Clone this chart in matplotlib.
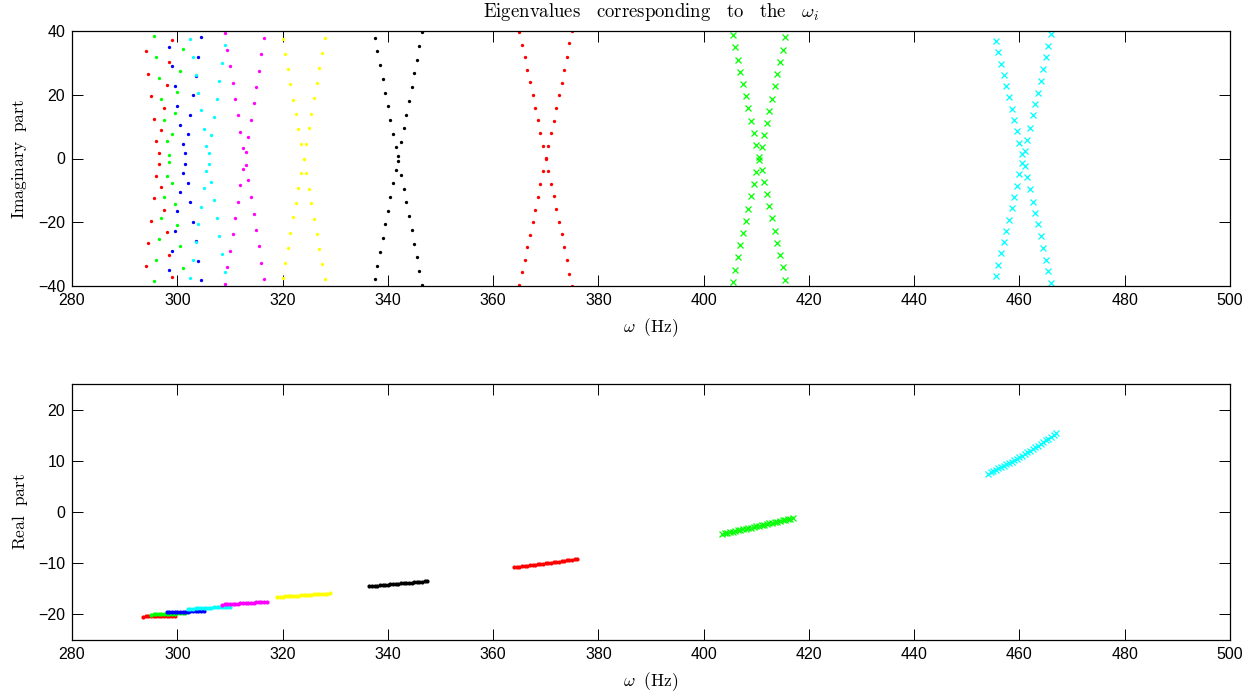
import matplotlib
matplotlib.use("Agg")
import matplotlib.pyplot as plt
import numpy as np

# ---------------- data ----------------
# Top panel: omega samples (Hz) and imaginary part of one eigenvalue of each pair
# (the other eigenvalue of the pair is its complex conjugate)
red1_om_top = [294.0, 294.5, 295.0, 295.5, 296.0, 296.5, 297.0, 297.5, 298.0, 298.5, 299.0]
red1_im = [-33.7, -26.6, -19.5, -12.5, -5.4, 1.7, 8.9, 16.0, 23.0, 30.2, 37.3]

green1_om_top = [295.5, 296.0, 296.5, 297.0, 297.5, 298.0, 298.5, 299.0, 299.5, 300.0, 300.5, 301.0]
green1_im = [38.4, 31.8, 25.2, 18.6, 12.0, 5.5, -1.2, -7.8, -14.3, -20.9, -27.6, -34.2]

blue_om_top = [298.5, 299.0, 299.5, 300.0, 300.5, 301.0, 301.5, 302.0, 302.5, 303.0, 303.5, 304.0, 304.5]
blue_im = [35.0, 28.9, 22.8, 16.6, 10.5, 4.5, -1.6, -7.7, -13.8, -19.8, -25.9, -32.0, -38.2]

cyan1_om_top = [302.5, 303.0, 303.5, 304.0, 304.5, 305.0, 305.5, 306.0, 306.5, 307.0, 307.5, 308.0, 308.5, 309.0]
cyan1_im = [37.4, 31.8, 26.2, 20.6, 15.1, 9.4, 3.8, -1.8, -7.5, -13.1, -18.7, -24.4, -29.9, -35.6]

magenta_om_top = [309.0, 309.5, 310.0, 310.5, 311.0, 311.5, 312.0, 312.5, 313.0, 313.5, 314.0, 314.5,
                  315.0, 315.5, 316.0, 316.5]
magenta_im = [39.3, 34.0, 28.9, 23.7, 18.6, 13.5, 8.3, 3.3, -1.9, -6.9, -12.1, -17.3, -22.4, -27.6, -32.7, -37.9]

yellow_om_top = [320.0, 320.5, 321.0, 321.5, 322.0, 322.5, 323.0, 323.5, 324.0, 324.5, 325.0, 325.5,
                 326.0, 326.5, 327.0, 327.5, 328.0]
yellow_im = [37.4, 32.7, 28.0, 23.3, 18.5, 13.9, 9.2, 4.6, 0.0, -4.7, -9.5, -14.0, -19.0, -23.6, -28.5, -33.2, -37.9]

black_om_top = [337.5, 338.0, 338.5, 339.0, 339.5, 340.0, 340.5, 341.0, 341.5, 342.0, 342.5, 343.0,
                343.5, 344.0, 344.5, 345.0, 345.5, 346.0, 346.5]
black_im = [37.9, 33.6, 29.3, 25.0, 20.7, 16.4, 12.1, 7.8, 3.5, -0.8, -5.2, -9.5, -13.8, -18.1, -22.4,
            -26.7, -31.0, -35.3, -39.6]

red2_om_top = [365.0, 365.5, 366.0, 366.5, 367.0, 367.5, 368.0, 368.5, 369.0, 369.5, 370.0, 370.5,
               371.0, 371.5, 372.0, 372.5, 373.0, 373.5, 374.0, 374.5, 375.0]
red2_im = [39.6, 35.7, 31.7, 27.8, 23.9, 19.8, 16.0, 12.0, 7.9, 3.9, 0.2, -4.0, -7.9, -11.9, -15.9,
           -20.0, -23.8, -27.9, -31.9, -36.1, -39.9]

green2_om_top = [405.5, 406.0, 406.5, 407.0, 407.5, 408.0, 408.5, 409.0, 409.5, 410.0, 410.5, 411.0,
                 411.5, 412.0, 412.5, 413.0, 413.5, 414.0, 414.5, 415.0, 415.5]
green2_im = [38.7, 34.9, 31.0, 27.2, 23.4, 19.5, 15.7, 11.9, 8.0, 4.2, 0.4, -3.5, -7.3, -11.1, -15.0,
             -18.8, -22.6, -26.5, -30.3, -34.1, -38.0]

cyan2_om_top = [455.5, 456.0, 456.5, 457.0, 457.5, 458.0, 458.5, 459.0, 459.5, 460.0, 460.5, 461.0,
                461.5, 462.0, 462.5, 463.0, 463.5, 464.0, 464.5, 465.0, 465.5, 466.0]
cyan2_im = [36.8, 33.3, 29.7, 26.3, 22.7, 19.2, 15.6, 12.1, 8.6, 5.0, 1.5, -2.2, -5.8, -9.7, -13.5,
            -17.0, -20.5, -24.4, -28.1, -31.7, -35.4, -39.2]

# Bottom panel: omega samples (Hz) and real part
red1_om_bot = [293.5, 294.0, 294.5, 295.0, 295.5, 296.0, 296.5, 297.0, 297.5, 298.0, 298.5, 299.0, 299.5]
red1_re = [-20.42, -20.40, -20.39, -20.37, -20.36, -20.34, -20.33, -20.31, -20.30, -20.28, -20.26,
           -20.25, -20.23]

green1_om_bot = [295.0, 295.5, 296.0, 296.5, 297.0, 297.5, 298.0, 298.5, 299.0, 299.5, 300.0, 300.5,
                 301.0, 301.5]
green1_re = [-20.02, -20.00, -19.98, -19.96, -19.94, -19.92, -19.90, -19.88, -19.86, -19.84, -19.82,
             -19.80, -19.78, -19.76]

blue_om_bot = [298.0, 298.5, 299.0, 299.5, 300.0, 300.5, 301.0, 301.5, 302.0, 302.5, 303.0, 303.5,
               304.0, 304.5, 305.0]
blue_re = [-19.62, -19.60, -19.58, -19.55, -19.53, -19.51, -19.49, -19.46, -19.44, -19.42, -19.39,
           -19.37, -19.35, -19.32, -19.30]

cyan1_om_bot = [302.0, 302.5, 303.0, 303.5, 304.0, 304.5, 305.0, 305.5, 306.0, 306.5, 307.0, 307.5,
                308.0, 308.5, 309.0, 309.5, 310.0]
cyan1_re = [-18.90, -18.88, -18.85, -18.83, -18.80, -18.78, -18.75, -18.73, -18.70, -18.68, -18.65,
            -18.63, -18.60, -18.58, -18.55, -18.53, -18.50]

magenta_om_bot = [308.5, 309.0, 309.5, 310.0, 310.5, 311.0, 311.5, 312.0, 312.5, 313.0, 313.5, 314.0,
                  314.5, 315.0, 315.5, 316.0, 316.5, 317.0]
magenta_re = [-18.10, -18.06, -18.03, -17.99, -17.96, -17.92, -17.89, -17.85, -17.82, -17.78, -17.75,
              -17.71, -17.68, -17.64, -17.61, -17.57, -17.54, -17.50]

yellow_om_bot = [319.0, 319.5, 320.0, 320.5, 321.0, 321.5, 322.0, 322.5, 323.0, 323.5, 324.0, 324.5,
                 325.0, 325.5, 326.0, 326.5, 327.0, 327.5, 328.0, 328.5, 329.0]
yellow_re = [-16.60, -16.57, -16.53, -16.50, -16.46, -16.43, -16.39, -16.36, -16.32, -16.29, -16.25,
             -16.22, -16.18, -16.15, -16.11, -16.08, -16.04, -16.01, -15.97, -15.94, -15.90]

black_om_bot = [336.5, 337.0, 337.5, 338.0, 338.5, 339.0, 339.5, 340.0, 340.5, 341.0, 341.5, 342.0,
                342.5, 343.0, 343.5, 344.0, 344.5, 345.0, 345.5, 346.0, 346.5, 347.0, 347.5]
black_re = [-14.50, -14.45, -14.41, -14.36, -14.32, -14.27, -14.23, -14.18, -14.14, -14.09, -14.05,
            -14.00, -13.95, -13.91, -13.86, -13.82, -13.77, -13.73, -13.68, -13.64, -13.59, -13.55, -13.50]

red2_om_bot = [364.0, 364.5, 365.0, 365.5, 366.0, 366.5, 367.0, 367.5, 368.0, 368.5, 369.0, 369.5,
               370.0, 370.5, 371.0, 371.5, 372.0, 372.5, 373.0, 373.5, 374.0, 374.5, 375.0, 375.5, 376.0]
red2_re = [-10.80, -10.73, -10.67, -10.60, -10.53, -10.47, -10.40, -10.33, -10.27, -10.20, -10.13,
           -10.07, -10.00, -9.93, -9.87, -9.80, -9.73, -9.67, -9.60, -9.53, -9.47, -9.40, -9.33, -9.27, -9.20]

green2_om_bot = [403.5, 404.0, 404.5, 405.0, 405.5, 406.0, 406.5, 407.0, 407.5, 408.0, 408.5, 409.0,
                 409.5, 410.0, 410.5, 411.0, 411.5, 412.0, 412.5, 413.0, 413.5, 414.0, 414.5, 415.0,
                 415.5, 416.0, 416.5, 417.0]
green2_re = [-4.30, -4.19, -4.07, -3.96, -3.84, -3.73, -3.61, -3.50, -3.38, -3.27, -3.15, -3.04, -2.92,
             -2.81, -2.69, -2.58, -2.46, -2.35, -2.23, -2.12, -2.00, -1.89, -1.77, -1.66, -1.54, -1.43,
             -1.31, -1.20]

cyan2_om_bot = [454.0, 454.5, 455.0, 455.5, 456.0, 456.5, 457.0, 457.5, 458.0, 458.5, 459.0, 459.5,
                460.0, 460.5, 461.0, 461.5, 462.0, 462.5, 463.0, 463.5, 464.0, 464.5, 465.0, 465.5,
                466.0, 466.5, 467.0]
cyan2_re = [7.5, 7.75, 8.0, 8.25, 8.5, 8.75, 9.0, 9.3, 9.6, 9.85, 10.1, 10.4, 10.7, 11.0, 11.3, 11.65,
            12.0, 12.3, 12.6, 12.95, 13.3, 13.65, 14.0, 14.35, 14.7, 15.05, 15.4]

x_ticks = [280, 300, 320, 340, 360, 380, 400, 420, 440, 460, 480, 500]
top_y_ticks = [-40, -20, 0, 20, 40]
bot_y_ticks = [-20, -10, 0, 10, 20]

groups = [
    (red1_om_top, red1_im, red1_om_bot, red1_re, (1, 0, 0), '.'),
    (green1_om_top, green1_im, green1_om_bot, green1_re, (0, 1, 0), '.'),
    (blue_om_top, blue_im, blue_om_bot, blue_re, (0, 0, 1), '.'),
    (cyan1_om_top, cyan1_im, cyan1_om_bot, cyan1_re, (0, 1, 1), '.'),
    (magenta_om_top, magenta_im, magenta_om_bot, magenta_re, (1, 0, 1), '.'),
    (yellow_om_top, yellow_im, yellow_om_bot, yellow_re, (1, 1, 0), '.'),
    (black_om_top, black_im, black_om_bot, black_re, (0, 0, 0), '.'),
    (red2_om_top, red2_im, red2_om_bot, red2_re, (1, 0, 0), '.'),
    (green2_om_top, green2_im, green2_om_bot, green2_re, (0, 1, 0), 'x'),
    (cyan2_om_top, cyan2_im, cyan2_om_bot, cyan2_re, (0, 1, 1), 'x'),
]

# ---------------- figure ----------------
plt.rcParams['mathtext.fontset'] = 'cm'
plt.rcParams['font.family'] = ['Liberation Sans', 'DejaVu Sans']

W, H = 1258, 694
fig = plt.figure(figsize=(W / 100, H / 100), dpi=100)
ax1 = fig.add_axes([72 / W, 1 - 286 / H, (1230 - 72) / W, (286 - 31) / H])
ax2 = fig.add_axes([72 / W, 1 - 640 / H, (1230 - 72) / W, (640 - 384) / H])

for om_t, im, om_b, re, col, mk in groups:
    im_arr = np.asarray(im)
    if mk == '.':
        kw_top = dict(marker='o', markersize=2.4, markeredgewidth=0, linestyle='none', color=col)
        kw_bot = dict(marker='o', markersize=3.0, markeredgewidth=0, linestyle='none', color=col)
    else:
        kw_top = dict(marker='x', markersize=5.0, markeredgewidth=0.9, linestyle='none', color=col)
        kw_bot = dict(marker='x', markersize=5.0, markeredgewidth=0.9, linestyle='none', color=col)
    ax1.plot(om_t, im_arr, **kw_top)
    ax1.plot(om_t, -im_arr, **kw_top)
    ax2.plot(om_b, re, **kw_bot)

for ax in (ax1, ax2):
    ax.set_xlim(280, 500)
    ax.set_xticks(x_ticks)
    ax.tick_params(direction='in', length=8, width=0.7, top=True, right=True,
                   labelsize=11.5, colors='black', pad=5)
    for s in ax.spines.values():
        s.set_linewidth(0.9)

ax1.set_ylim(-40, 40)
ax1.set_yticks(top_y_ticks)
ax2.set_ylim(-25, 25)
ax2.set_yticks(bot_y_ticks)

ax1.set_title(r'$\mathrm{Eigenvalues\ \ \ corresponding\ \ \ to\ \ \ the\ \ \ }\omega_i$',
              fontsize=13.5, pad=10)
ax1.set_xlabel(r'$\omega\ \ \mathrm{(Hz)}$', fontsize=12.5, labelpad=6)
ax1.set_ylabel(r'$\mathrm{Imaginary\ \ part}$', fontsize=12.5, labelpad=6)
ax2.set_xlabel(r'$\omega\ \ \mathrm{(Hz)}$', fontsize=12.5, labelpad=6)
ax2.set_ylabel(r'$\mathrm{Real\ \ part}$', fontsize=12.5, labelpad=6)
fig.align_ylabels([ax1, ax2])

fig.savefig('out.png', dpi=100)
